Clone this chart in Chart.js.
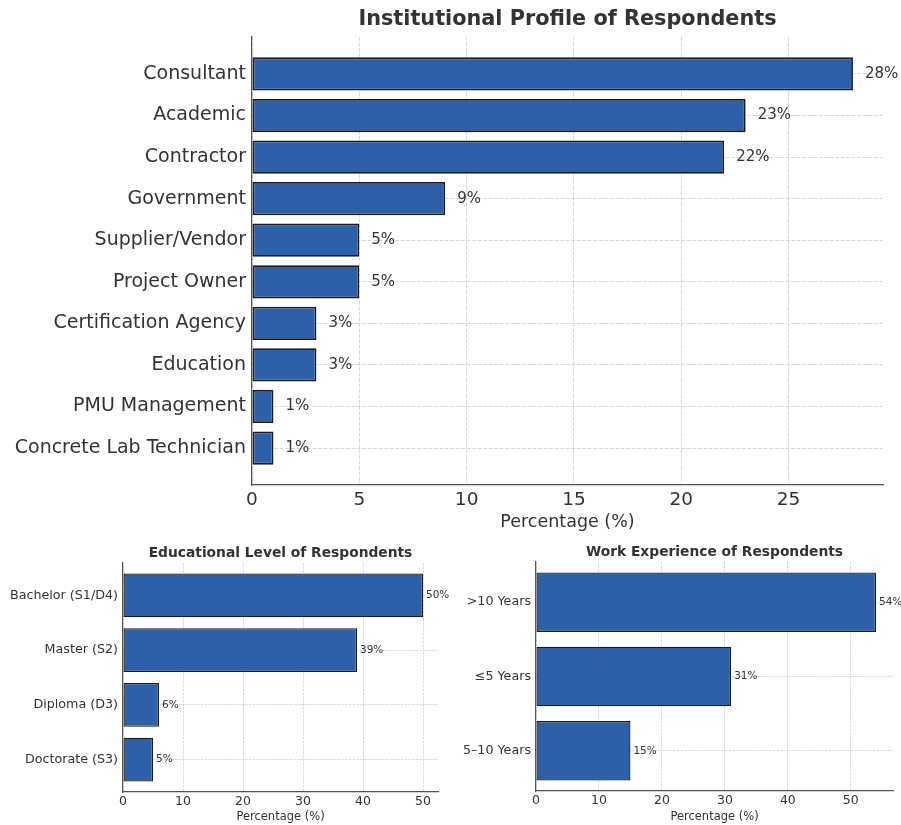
<!DOCTYPE html>
<html>
<head>
<meta charset="utf-8">
<script src="https://cdn.jsdelivr.net/npm/chart.js@4.4.0/dist/chart.umd.min.js"></script>
<style>
  body { margin: 0; background: #fff; }
  #wrap { position: relative; width: 901px; height: 825px; }
  canvas { position: absolute; }
</style>
</head>
<body>
<div id="wrap">
  <canvas id="inst" width="901" height="535" style="left:0;top:0"></canvas>
  <canvas id="edu" width="450" height="290" style="left:0;top:535px"></canvas>
  <canvas id="work" width="451" height="290" style="left:450px;top:535px"></canvas>
</div>
<script>
const instLabels = ["Consultant", "Academic", "Contractor", "Government", "Supplier/Vendor",
  "Project Owner", "Certification Agency", "Education", "PMU Management", "Concrete Lab Technician"];
const instValues = [28, 23, 22, 9, 5, 5, 3, 3, 1, 1];

const eduLabels = ["Bachelor (S1/D4)", "Master (S2)", "Diploma (D3)", "Doctorate (S3)"];
const eduValues = [50, 39, 6, 5];

const workLabels = [">10 Years", "≤5 Years", "5–10 Years"];
const workValues = [54, 31, 15];

const BAR_FILL = "#2e5fa9";
const BAR_EDGE = "#1c1c1c";
const GRID = "rgba(185,185,185,0.55)";
const TEXT = "#333";

Chart.defaults.font.family = "'DejaVu Sans', sans-serif";
Chart.defaults.color = TEXT;
Chart.defaults.animation = false;

// percent labels to the right of each bar
const valueLabels = {
  id: "valueLabels",
  afterDraw(chart, args, opts) {
    const ctx = chart.ctx;
    const meta = chart.getDatasetMeta(0);
    const xScale = chart.scales.x;
    ctx.save();
    ctx.font = `${opts.size}px 'DejaVu Sans', sans-serif`;
    ctx.fillStyle = TEXT;
    ctx.textAlign = "left";
    ctx.textBaseline = "middle";
    meta.data.forEach((bar, i) => {
      const v = chart.data.datasets[0].data[i].x;
      ctx.fillText(`${v}%`, xScale.getPixelForValue(v) + opts.offset, bar.y);
    });
    ctx.restore();
  },
};

function makeChart(id, labels, values, s) {
  const n = labels.length;
  const pad = 0.05 * (n - 0.2);
  return new Chart(document.getElementById(id), {
    type: "bar",
    data: {
      datasets: [{
        data: values.map((v, i) => ({ x: v, y: i })),
        backgroundColor: BAR_FILL,
        borderColor: BAR_EDGE,
        borderWidth: s.edge,
        borderSkipped: false,
        barPercentage: 0.8,
        categoryPercentage: 1.0,
      }],
    },
    plugins: [valueLabels],
    options: {
      responsive: false,
      indexAxis: "y",
      layout: { padding: { left: 0, right: s.w - s.right, top: 0, bottom: 0 } },
      plugins: {
        legend: { display: false },
        tooltip: { enabled: false },
        title: {
          display: true,
          text: s.title,
          fullSize: false,
          color: TEXT,
          font: { size: s.titleSize, weight: "bold" },
          padding: { top: s.titleTop, bottom: s.top - s.titleTop - s.titleSize * 1.2 },
        },
        valueLabels: { size: s.valSize, offset: s.valOffset },
      },
      scales: {
        x: {
          type: "linear",
          min: 0,
          max: s.xMax,
          z: 1,
          afterFit: (axis) => { axis.height = s.h - s.bottom; },
          ticks: { stepSize: s.step, includeBounds: false, padding: s.tickPad, color: TEXT, font: { size: s.tickSize } },
          grid: { color: GRID, drawTicks: false, tickLength: 0 },
          border: { color: "#555", width: 1.2, dash: s.dash },
          title: {
            display: true,
            text: "Percentage (%)",
            color: TEXT,
            font: { size: s.axisSize },
            padding: { top: 0, bottom: s.axisPad },
          },
        },
        y: {
          type: "linear",
          reverse: true,
          offset: false,
          bounds: "data",
          min: -0.4 - pad,
          max: n - 0.6 + pad,
          z: 1,
          afterBuildTicks: (axis) => { axis.ticks = labels.map((_, i) => ({ value: i })); },
          afterFit: (axis) => { axis.width = s.left; },
          ticks: {
            callback: (v) => labels[v],
            autoSkip: false,
            padding: s.yPad,
            color: TEXT,
            font: { size: s.labelSize },
          },
          grid: { offset: false, color: GRID, drawTicks: false, tickLength: 0 },
          border: { color: "#555", width: 1.2, dash: s.dash },
        },
      },
    },
  });
}

makeChart("inst", instLabels, instValues, {
  w: 901, h: 535, left: 252, right: 883, top: 37, bottom: 485,
  xMax: 29.4, step: 5, edge: 1.8, dash: [4, 1.5],
  title: "Institutional Profile of Respondents", titleSize: 20.8, titleTop: 7.5,
  labelSize: 19, tickSize: 18.5, tickPad: 4, yPad: 6,
  axisSize: 17.5, axisPad: 2, valSize: 15, valOffset: 12,
});

makeChart("edu", eduLabels, eduValues, {
  w: 450, h: 290, left: 123, right: 438, top: 28, bottom: 257,
  xMax: 52.5, step: 10, edge: 1.3, dash: [2.5, 1.2],
  title: "Educational Level of Respondents", titleSize: 13.8, titleTop: 10,
  labelSize: 12.7, tickSize: 12.5, tickPad: 2, yPad: 5,
  axisSize: 11.5, axisPad: 1.4, valSize: 10.5, valOffset: 3,
});

makeChart("work", workLabels, workValues, {
  w: 451, h: 290, left: 86, right: 443, top: 27, bottom: 256,
  xMax: 56.7, step: 10, edge: 1.3, dash: [2.5, 1.2],
  title: "Work Experience of Respondents", titleSize: 13.8, titleTop: 9,
  labelSize: 12.7, tickSize: 12.5, tickPad: 2, yPad: 5,
  axisSize: 11.5, axisPad: 1.4, valSize: 10.5, valOffset: 3,
});
</script>
</body>
</html>
